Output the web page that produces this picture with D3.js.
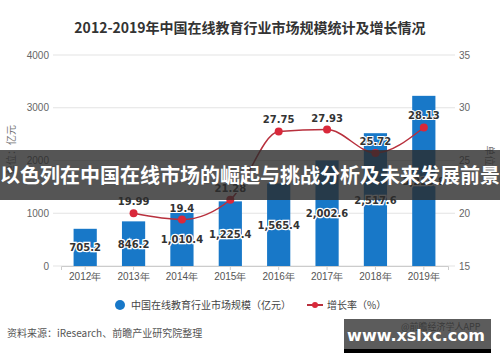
<!DOCTYPE html>
<html>
<head>
<meta charset="utf-8">
<script src="https://cdn.jsdelivr.net/npm/d3@7"></script>
<style>
  body { margin: 0; background: #fff; }
  svg { display: block; font-family: "Noto Sans CJK SC", "DejaVu Sans", sans-serif; }
</style>
</head>
<body>
<div id="chart"></div>
<script>
var years = ["2012年", "2013年", "2014年", "2015年", "2016年", "2017年", "2018年", "2019年"];
var marketSize = [705.2, 846.2, 1010.4, 1225.4, 1565.4, 2002.6, 2517.6, 3225.8];
var growthRate = [null, 19.99, 19.4, 21.28, 27.75, 27.93, 25.72, 28.13];
var leftTicks = [0, 1000, 2000, 3000, 4000];
var rightTicks = [15, 20, 25, 30, 35];

var width = 500, height = 362;
var svg = d3.select("#chart").append("svg")
    .attr("width", width)
    .attr("height", height);

var x = d3.scaleBand().domain(years).range([61, 448]).paddingInner(0.52).paddingOuter(0.26);
var yL = d3.scaleLinear().domain([0, 4000]).range([266, 55]);
var yR = d3.scaleLinear().domain([15, 35]).range([266, 55]);
var fmt = d3.format(",.1f");

// title
svg.append("text")
    .attr("x", 250).attr("y", 33)
    .attr("text-anchor", "middle")
    .style("font-size", "14px").style("font-weight", "bold").style("fill", "#333")
    .text("2012-2019年中国在线教育行业市场规模统计及增长情况");

// grid lines
svg.append("g").selectAll("line")
    .data(leftTicks).enter().append("line")
    .attr("x1", 53).attr("x2", 455)
    .attr("y1", function (d) { return yL(d); })
    .attr("y2", function (d) { return yL(d); })
    .style("stroke", "#e3e3e3").style("stroke-width", 1);

// left axis
var axL = svg.append("g").attr("transform", "translate(52,0)")
    .call(d3.axisLeft(yL).tickValues(leftTicks).tickFormat(d3.format("d")).tickSize(0).tickPadding(3));
axL.select(".domain").remove();
axL.selectAll("text").style("font-size", "10px").style("fill", "#666").style("font-family", "Liberation Sans, sans-serif");

// right axis
var axR = svg.append("g").attr("transform", "translate(456,0)")
    .call(d3.axisRight(yR).tickValues(rightTicks).tickSize(0).tickPadding(3));
axR.select(".domain").remove();
axR.selectAll("text").style("font-size", "10px").style("fill", "#666").style("font-family", "Liberation Sans, sans-serif");

// x axis
var axX = svg.append("g").attr("transform", "translate(0,266)")
    .call(d3.axisBottom(x).tickSize(4).tickPadding(3));
axX.select(".domain").style("stroke", "#ccc");
axX.selectAll(".tick line").style("stroke", "#ccc");
axX.selectAll("text").style("font-size", "10px").style("fill", "#555");

// axis titles
svg.append("text")
    .attr("transform", "translate(15,150) rotate(-90)")
    .attr("text-anchor", "middle")
    .style("font-size", "10px").style("fill", "#777")
    .text("单位：亿元");
svg.append("text")
    .attr("transform", "translate(486,165) rotate(90)")
    .attr("text-anchor", "middle")
    .style("font-size", "10px").style("fill", "#777")
    .text("单位：%");

// bars
svg.append("g").selectAll("rect")
    .data(marketSize).enter().append("rect")
    .attr("x", function (d, i) { return x(years[i]); })
    .attr("y", function (d) { return yL(d); })
    .attr("width", x.bandwidth())
    .attr("height", function (d) { return yL(0) - yL(d); })
    .style("fill", "#1878c8");

svg.append("g").selectAll("text")
    .data(marketSize).enter().append("text")
    .attr("x", function (d, i) { return x(years[i]) + x.bandwidth() / 2; })
    .attr("y", function (d) { return (yL(d) + yL(0)) / 2 + 4; })
    .attr("text-anchor", "middle")
    .style("font-size", "10px").style("font-weight", "bold").style("fill", "#333")
    .style("stroke", "#fff").style("stroke-width", 2.5).style("paint-order", "stroke")
    .style("font-family", "DejaVu Sans, sans-serif")
    .text(function (d) { return fmt(d); });

// growth line
var pts = growthRate.map(function (d, i) { return {v: d, c: years[i]}; })
    .filter(function (d) { return d.v !== null; });
var cx = function (d) { return x(d.c) + x.bandwidth() / 2; };
var line = d3.line()
    .x(cx)
    .y(function (d) { return yR(d.v); })
    .curve(d3.curveMonotoneX);

svg.append("path")
    .datum(pts)
    .attr("d", line)
    .style("fill", "none").style("stroke", "#b8303d").style("stroke-width", 1.5);

svg.append("g").selectAll("circle")
    .data(pts).enter().append("circle")
    .attr("cx", cx)
    .attr("cy", function (d) { return yR(d.v); })
    .attr("r", 4)
    .style("fill", "#d9283a");

svg.append("g").selectAll("text")
    .data(pts).enter().append("text")
    .attr("x", cx)
    .attr("y", function (d) { return yR(d.v) - 8; })
    .attr("text-anchor", "middle")
    .style("font-size", "10px").style("font-weight", "bold").style("fill", "#333")
    .style("stroke", "#fff").style("stroke-width", 2).style("paint-order", "stroke")
    .style("font-family", "DejaVu Sans, sans-serif")
    .text(function (d) { return d.v; });

// legend
svg.append("circle").attr("cx", 120).attr("cy", 305).attr("r", 5).style("fill", "#1878c8");
svg.append("text").attr("x", 131).attr("y", 309)
    .style("font-size", "10px").style("fill", "#444")
    .text("中国在线教育行业市场规模（亿元）");
svg.append("line").attr("x1", 307).attr("x2", 323).attr("y1", 305).attr("y2", 305)
    .style("stroke", "#b8303d").style("stroke-width", 2);
svg.append("circle").attr("cx", 315).attr("cy", 305).attr("r", 3).style("fill", "#d9283a");
svg.append("text").attr("x", 327).attr("y", 309)
    .style("font-size", "10px").style("fill", "#444")
    .text("增长率（%）");

// source
svg.append("text").attr("x", 7).attr("y", 337)
    .style("font-size", "10px").style("fill", "#555")
    .text("资料来源：iResearch、前瞻产业研究院整理");
svg.append("text").attr("x", 401).attr("y", 330)
    .style("font-size", "9px").style("fill", "#555")
    .text("@前瞻经济学人APP");

// overlay banner
svg.append("rect").attr("x", 0).attr("y", 150).attr("width", 500).attr("height", 50)
    .style("fill", "#2a2a2a").style("opacity", 0.8);
svg.append("text").attr("x", 250).attr("y", 183)
    .attr("text-anchor", "middle")
    .style("font-size", "20px").style("font-weight", "bold").style("fill", "#fff")
    .text("以色列在中国在线市场的崛起与挑战分析及未来发展前景");

// site badge
svg.append("rect").attr("x", 344).attr("y", 319).attr("width", 147).attr("height", 31)
    .style("fill", "#333").style("opacity", 0.8);
svg.append("rect").attr("x", 344).attr("y", 349).attr("width", 147).attr("height", 4)
    .style("fill", "#000");
svg.append("text").attr("x", 416).attr("y", 341)
    .attr("text-anchor", "middle")
    .style("font-size", "16px").style("font-weight", "bold").style("fill", "#fff")
    .style("font-family", "DejaVu Sans, sans-serif")
    .text("www.xslxc.com");
</script>
</body>
</html>
